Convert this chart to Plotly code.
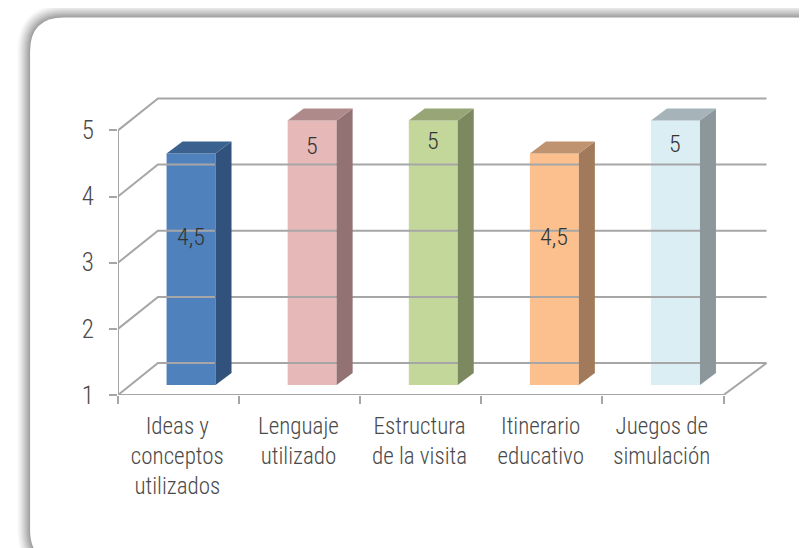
import plotly.graph_objects as go

categories = ['Ideas y<br>conceptos<br>utilizados', 'Lenguaje<br>utilizado', 'Estructura<br>de la visita',
              'Itinerario<br>educativo', 'Juegos de<br>simulación']
values = [4.5, 5, 5, 4.5, 5]
value_labels = ['4,5', '5', '5', '4,5', '5']
y_ticks = [1, 2, 3, 4, 5]

front_colors = ['#4F81BD', '#E6B8B7', '#C4D79B', '#FBC08E', '#DBEEF4']
side_colors = ['#30527C', '#927272', '#7C885F', '#A07A5A', '#8B979B']
top_colors = ['#3B628F', '#AE8B8A', '#97A577', '#BF9270', '#A6B4B9']
label_drop = [84, 26, 21, 84, 24]  # px below the bar top

# pixel layout of the picture; the page body has an 8px margin so the figure starts at (8, 8)
PAGE = 8
W, H = 807 - PAGE, 548 - PAGE
PX_X, PX_Y = 121.2, 66.25  # px per category, px per value unit
LEFT, BOTTOM = 118 - PAGE, 395 - PAGE
X_MAX, Y_MAX = 5.4, 5.55
plot_w, plot_h = X_MAX * PX_X, (Y_MAX - 1) * PX_Y

# oblique depth of the floor and of the bars, in axis units
WALL_DX, WALL_DY = 40 / PX_X, 32 / PX_Y
WALL_END_DX = 43 / PX_X
BAR_OX, BAR_OY = 12.5 / PX_X, 10 / PX_Y
BAR_DX, BAR_DY = 16 / PX_X, 12 / PX_Y
BAR_W = 49 / PX_X
GRID = '#A6A6A6'
TEXT = '#4A4A4A'
FONT = 'Roboto Condensed'

fig = go.Figure()


def add_line(xs, ys):
    fig.add_trace(go.Scatter(x=xs, y=ys, mode='lines', line=dict(color=GRID, width=2),
                             cliponaxis=False, hoverinfo='skip', showlegend=False))


def add_poly(xs, ys, color):
    fig.add_trace(go.Scatter(x=xs, y=ys, mode='lines', fill='toself', fillcolor=color,
                             line=dict(width=0, color=color), hoverinfo='skip', showlegend=False))


# walls
for t in y_ticks:
    add_line([0, WALL_DX, 5 + WALL_END_DX], [t, t + WALL_DY, t + WALL_DY])
add_line([0, 0], [1, 5])
add_line([0, 5, 5 + WALL_END_DX], [1, 1, 1 + WALL_DY])

# bars: front face is a real bar, the side and top faces follow from its value
for i, v in enumerate(values):
    x0 = i + 0.5 + BAR_OX - BAR_W / 2
    x1 = x0 + BAR_W
    y0 = 1 + BAR_OY
    y1 = v + BAR_OY
    add_poly([x1, x1 + BAR_DX, x1 + BAR_DX, x1, x1], [y0, y0 + BAR_DY, y1 + BAR_DY, y1, y0], side_colors[i])
    add_poly([x0, x1, x1 + BAR_DX, x0 + BAR_DX, x0], [y1, y1, y1 + BAR_DY, y1 + BAR_DY, y1], top_colors[i])
    fig.add_trace(go.Bar(x=[i + 0.5 + BAR_OX], y=[v - 1], base=[y0], width=BAR_W,
                         marker=dict(color=front_colors[i], line=dict(width=0)), showlegend=False))
    fig.add_annotation(x=i + 0.5 + BAR_OX, y=y1, yshift=-label_drop[i], text=value_labels[i], showarrow=False,
                       font=dict(family=FONT, size=24, weight=300, color='#333333'))


# card with a soft shadow behind the chart
def card_path(pad):
    l, t, r, b = 30 - PAGE - pad, 17 - PAGE - pad, 832 + pad, 556 + pad
    rad = 34 + pad
    fx = lambda p: (p - LEFT) / plot_w
    fy = lambda p: (BOTTOM - p) / plot_h
    return (f'M {fx(l + rad)} {fy(t)} L {fx(r - rad)} {fy(t)} Q {fx(r)} {fy(t)} {fx(r)} {fy(t + rad)} '
            f'L {fx(r)} {fy(b - rad)} Q {fx(r)} {fy(b)} {fx(r - rad)} {fy(b)} '
            f'L {fx(l + rad)} {fy(b)} Q {fx(l)} {fy(b)} {fx(l)} {fy(b - rad)} '
            f'L {fx(l)} {fy(t + rad)} Q {fx(l)} {fy(t)} {fx(l + rad)} {fy(t)} Z')


shapes = []
for pad in range(14, 0, -1):
    g = 255 - int(95 * ((14 - pad) / 13) ** 1.25)
    shapes.append(dict(type='path', xref='paper', yref='paper', layer='below', path=card_path(pad),
                       fillcolor=f'rgb({g},{g},{g})', line=dict(width=0)))
shapes.append(dict(type='path', xref='paper', yref='paper', layer='below', path=card_path(0),
                   fillcolor='white', line=dict(width=0)))

fig.update_layout(
    width=W, height=H, autosize=False,
    margin=dict(l=LEFT, r=W - LEFT - plot_w, t=BOTTOM - plot_h, b=H - BOTTOM, pad=0),
    paper_bgcolor='white', plot_bgcolor='rgba(0,0,0,0)',
    showlegend=False, barmode='overlay', shapes=shapes,
    xaxis=dict(range=[0, X_MAX], tickmode='array', tickvals=[i + 0.49 for i in range(5)], ticktext=categories,
               tickangle=0, ticks='', showgrid=False, zeroline=False, showline=False, automargin=False,
               ticklabelstandoff=15, tickfont=dict(family=FONT, size=23, weight=300, color=TEXT),
               minor=dict(tickmode='array', tickvals=list(range(6)), ticks='outside', ticklen=8, tickwidth=2,
                          tickcolor=GRID, showgrid=False)),
    yaxis=dict(range=[1, Y_MAX], tickmode='array', tickvals=y_ticks, ticks='outside', ticklen=8, tickwidth=2,
               tickcolor=GRID, showgrid=False, zeroline=False, showline=False, automargin=False,
               ticklabelstandoff=10, tickfont=dict(family=FONT, size=25, weight=300, color=TEXT)),
)

fig.write_html("out.html")
